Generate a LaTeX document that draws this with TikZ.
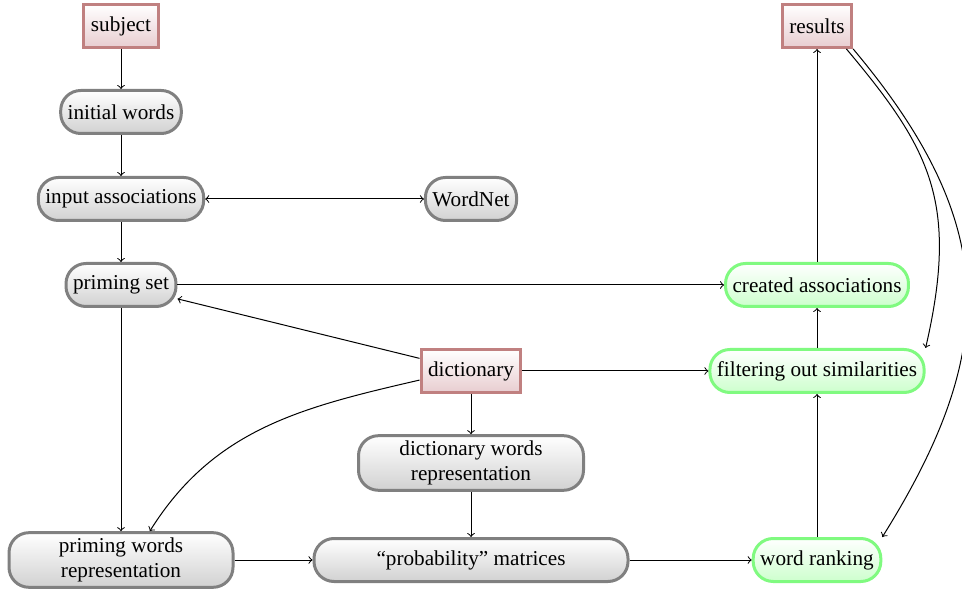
\documentclass[tikz,border=0pt]{standalone}
\usepackage{fontspec}
\setmainfont{Liberation Serif}
\usetikzlibrary{shadings}
\definecolor{redline}{RGB}{192,128,128}
\definecolor{redfill}{RGB}{232,205,208}
\definecolor{grayline}{RGB}{128,128,128}
\definecolor{grayfill}{RGB}{209,209,209}
\definecolor{greenline}{RGB}{128,250,128}
\definecolor{greenfill}{RGB}{205,255,205}
\begin{document}
\begin{tikzpicture}[x=0.5pt,y=0.5pt, font=\fontsize{10.6}{12.7}\selectfont, >=to,
  base/.style={line width=1.5pt, minimum height=21.5pt, inner xsep=3.5pt, inner ysep=2.5pt, align=center},
  redbox/.style={base, rectangle, draw=redline, top color=white, bottom color=redfill},
  graybox/.style={base, rounded corners=10pt, draw=grayline, top color=white, bottom color=grayfill},
  greenbox/.style={base, rounded corners=10pt, draw=greenline, top color=white, bottom color=greenfill},
  arr/.style={->, line width=0.5pt}]
\useasboundingbox (0,0) rectangle (962,-597);
\node[redbox] (subject) at (121,-26) {subject};
\node[graybox] (initial) at (121,-112) {initial words};
\node[graybox] (input) at (121,-199) {input associations};
\node[graybox] (wordnet) at (471,-199) {WordNet};
\node[graybox] (priming) at (121,-285) {priming set};
\node[redbox] (dict) at (471,-371) {dictionary};
\node[graybox, minimum width=112.5pt] (dwr) at (471,-463) {dictionary words\\representation};
\node[graybox, minimum width=112pt] (pwr) at (121,-560) {priming words\\representation};
\node[graybox, minimum width=157pt] (prob) at (471,-560) {“probability” matrices};
\node[greenbox] (rank) at (817,-560) {word ranking};
\node[greenbox] (filter) at (817,-371) {filtering out similarities};
\node[greenbox] (created) at (817,-285) {created associations};
\node[redbox] (results) at (817,-26) {results};

\draw[arr] (subject) -- (initial);
\draw[arr] (initial) -- (input);
\draw[<->, line width=0.5pt] (input) -- (wordnet);
\draw[arr] (input) -- (priming);
\draw[arr] (priming) -- (created);
\draw[arr] (dict) -- (priming);
\draw[arr] (dict.190) to[out=193,in=58] (pwr.45);
\draw[arr] (dict) -- (dwr);
\draw[arr] (dict) -- (filter);
\draw[arr] (priming) -- (pwr);
\draw[arr] (pwr) -- (prob);
\draw[arr] (dwr) -- (prob);
\draw[arr] (prob) -- (rank);
\draw[arr] (rank) -- (filter);
\draw[arr] (filter) -- (created);
\draw[arr] (created) -- (results);
\draw[arr] (results.-38) .. controls +(-50:130) and +(77:150) .. (filter.north east);
\draw[arr] (results.south east) .. controls +(-50:230) and +(58:220) .. (rank.north east);
\end{tikzpicture}
\end{document}
